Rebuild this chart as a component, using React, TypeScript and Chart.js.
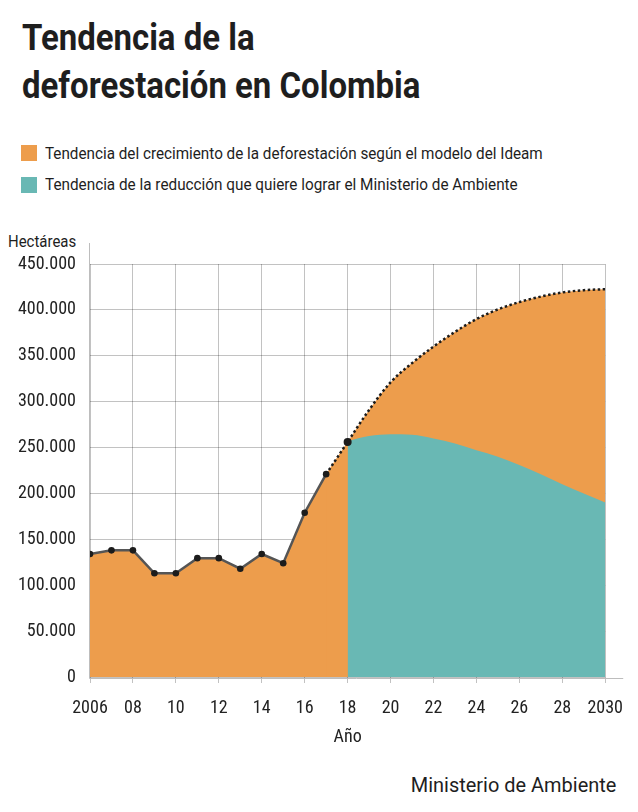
import React, { useEffect, useRef } from 'react';
import { Chart, registerables } from 'chart.js';

Chart.register(...registerables);

// Deforestación histórica (hectáreas)
const historicYears = [2006, 2007, 2008, 2009, 2010, 2011, 2012, 2013, 2014, 2015, 2016, 2017, 2018];
const historicValues = [134000, 138000, 138000, 113000, 113000, 129500, 129500, 118000, 134000, 124000, 179000, 221000, 256000];

// Modelo del Ideam, desde 2017 (tramo punteado)
const ideamYears = [2017, 2018, 2019, 2020, 2021, 2022, 2023, 2024, 2025, 2026, 2027, 2028, 2029, 2030];
const ideamValues = [221000, 256000, 291000, 321000, 342000, 360000, 376000, 390000, 400500, 408500, 414500, 419000, 421500, 422500];

// Meta del Ministerio
const ministerioYears = [2018, 2019, 2020, 2021, 2022, 2023, 2024, 2025, 2026, 2027, 2028, 2029, 2030];
const ministerioValues = [257000, 262500, 264500, 264000, 260000, 254500, 247000, 240000, 231000, 221000, 210000, 200000, 190000];

const xTickLabels = ['2006', '08', '10', '12', '14', '16', '18', '20', '22', '24', '26', '28', '2030'];
const yTickLabels = ['0', '50.000', '100.000', '150.000', '200.000', '250.000', '300.000', '350.000', '400.000', '450.000'];

const ORANGE = '#ED9D4C';
const TEAL = '#69B8B4';
const GRID = 'rgba(0,0,0,0.24)';
const AXIS = '#bdbdbd';
const DOTS = '#1c1c1c';
const TICK_FONT = "'Roboto Condensed', 'Liberation Sans Narrow', Roboto, sans-serif";
const HTML_FONT = "Roboto, 'Noto Sans', sans-serif";

// ejes que se alargan un poco más allá de la cuadrícula
const axisLines = {
  id: 'axisLines',
  afterDatasetsDraw(chart: Chart) {
    const { ctx, chartArea } = chart;
    ctx.save();
    ctx.strokeStyle = AXIS;
    ctx.lineWidth = 1;
    ctx.beginPath();
    ctx.moveTo(chartArea.left - 0.5, chartArea.top - 21);
    ctx.lineTo(chartArea.left - 0.5, chartArea.bottom + 1.5);
    ctx.lineTo(chartArea.right + 18, chartArea.bottom + 1.5);
    ctx.stroke();
    ctx.restore();
  },
};

const DeforestationChart: React.FC = () => {
  const canvasRef = useRef<HTMLCanvasElement>(null);

  useEffect(() => {
    if (!canvasRef.current) return;
    const ctx = canvasRef.current.getContext('2d');
    if (!ctx) return;

    const lineYears = historicYears.slice(0, -1);

    const chart = new Chart(ctx, {
      type: 'line',
      data: {
        datasets: [
          {
            label: 'Ministerio',
            data: ministerioYears.map((x, i) => ({ x, y: ministerioValues[i] })),
            fill: 'origin',
            backgroundColor: TEAL,
            borderColor: 'transparent',
            borderWidth: 0,
            pointRadius: 0,
            cubicInterpolationMode: 'monotone',
          },
          {
            label: 'Ideam',
            data: ideamYears.map((x, i) => ({ x, y: ideamValues[i] })),
            fill: 'origin',
            backgroundColor: ORANGE,
            borderColor: DOTS,
            borderWidth: 2.5,
            borderDash: [2.5, 2.5],
            pointRadius: ideamYears.map((y) => (y === 2018 ? 4 : 0)),
            pointBackgroundColor: DOTS,
            pointBorderWidth: 0,
            cubicInterpolationMode: 'monotone',
          },
          {
            label: 'Histórico',
            data: lineYears.map((x, i) => ({ x, y: historicValues[i] })),
            fill: false,
            borderColor: '#555555',
            borderWidth: 2.5,
            tension: 0,
            pointRadius: 3.3,
            pointBackgroundColor: DOTS,
            pointBorderWidth: 0,
          },
          {
            label: 'Histórico (área)',
            data: historicYears.map((x, i) => ({ x, y: historicValues[i] })),
            fill: 'origin',
            backgroundColor: ORANGE,
            borderColor: 'transparent',
            borderWidth: 0,
            pointRadius: 0,
            tension: 0,
          },
        ],
      },
      options: {
        animation: false,
        responsive: true,
        maintainAspectRatio: false,
        layout: { padding: { top: 34, right: 30, left: 0, bottom: 0 } },
        plugins: {
          legend: { display: false },
          tooltip: { enabled: false },
          filler: { drawTime: 'beforeDatasetsDraw' },
        },
        scales: {
          x: {
            type: 'linear',
            min: 2006,
            max: 2030,
            afterFit: (s: any) => {
              s.height = 83;
            },
            ticks: {
              stepSize: 2,
              padding: 15,
              color: '#222',
              font: { family: TICK_FONT, size: 18 },
              callback: (v: any) => xTickLabels[Math.round((Number(v) - 2006) / 2)] ?? '',
            },
            grid: { color: GRID, tickColor: GRID, tickLength: 6 },
            border: { display: false },
            title: {
              display: true,
              text: 'Año',
              color: '#222',
              font: { family: TICK_FONT, size: 18 },
              padding: { bottom: 12, top: 0 },
            },
          },
          y: {
            min: 0,
            max: 450000,
            afterFit: (s: any) => {
              s.width = 90;
            },
            ticks: {
              stepSize: 50000,
              padding: 14,
              color: '#222',
              font: { family: TICK_FONT, size: 18 },
              callback: (v: any) => yTickLabels[Math.round(Number(v) / 50000)] ?? '',
            },
            grid: { color: GRID, drawTicks: false },
            border: { display: false },
          },
        },
      },
      plugins: [axisLines],
    });

    return () => chart.destroy();
  }, []);

  const text = (extra: React.CSSProperties): React.CSSProperties => ({
    position: 'absolute',
    fontFamily: HTML_FONT,
    color: '#1e1e1e',
    whiteSpace: 'nowrap',
    margin: 0,
    ...extra,
  });

  return (
    <div style={{ position: 'absolute', left: 0, top: 0, width: 638, height: 812, background: '#fff', overflow: 'hidden' }}>
      <div
        style={text({
          left: 22,
          top: 14,
          fontSize: 36,
          fontWeight: 700,
          lineHeight: '48px',
          transform: 'scaleX(0.915)',
          transformOrigin: 'left top',
        })}
      >
        Tendencia de la
        <br />
        deforestación en Colombia
      </div>

      <div style={{ position: 'absolute', left: 21, top: 145, width: 16, height: 16, background: ORANGE }} />
      <div
        style={text({ left: 45, top: 143, fontSize: 17, lineHeight: '20px', transform: 'scaleX(0.897)', transformOrigin: 'left top' })}
      >
        Tendencia del crecimiento de la deforestación según el modelo del Ideam
      </div>
      <div style={{ position: 'absolute', left: 21, top: 177, width: 16, height: 16, background: TEAL }} />
      <div
        style={text({ left: 45, top: 174, fontSize: 17, lineHeight: '20px', transform: 'scaleX(0.9)', transformOrigin: 'left top' })}
      >
        Tendencia de la reducción que quiere lograr el Ministerio de Ambiente
      </div>

      <div style={text({ left: 8, top: 231, fontSize: 17, lineHeight: '20px', transform: 'scaleX(0.88)', transformOrigin: 'left top' })}>
        Hectáreas
      </div>

      <div style={{ position: 'absolute', left: 0, top: 230, width: 638, height: 530 }}>
        <canvas ref={canvasRef} />
      </div>

      <div style={text({ right: 22, top: 775, fontSize: 21, lineHeight: '21px', transform: 'scaleX(0.95)', transformOrigin: 'right top' })}>
        Ministerio de Ambiente
      </div>
    </div>
  );
};

export default function App() {
  return <DeforestationChart />;
}
